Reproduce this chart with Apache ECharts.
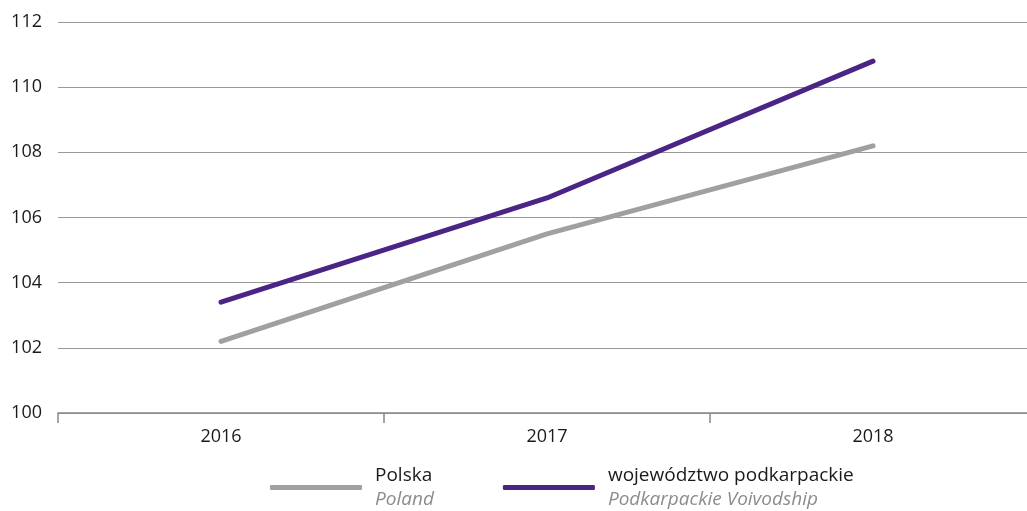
<!DOCTYPE html>
<html>
<head>
<meta charset="utf-8">
<script src="https://cdn.jsdelivr.net/npm/echarts@6/dist/echarts.min.js"></script>
<style>
  html, body { margin: 0; padding: 0; background: #fff; }
  #chart-container { width: 1027px; height: 511px; }
</style>
</head>
<body>
<div id="chart-container"></div>
<script>
const years = ['2016', '2017', '2018'];
const polska = [102.2, 105.5, 108.2];
const podkarpackie = [103.4, 106.6, 110.8];
const englishNames = {
  'Polska': 'Poland',
  'województwo podkarpackie': 'Podkarpackie Voivodship'
};

function buildSeries(name, color, data) {
  return {
    name,
    type: 'line',
    symbol: 'none',
    itemStyle: { color },
    lineStyle: { color, width: 5, cap: 'round', join: 'round' },
    data
  };
}

const font = 'Open Sans';

let option = {
  animation: false,
  // grid runs a bit past the right edge, like the original
  grid: { left: 58, width: 978, top: 22, bottom: 98, outerBoundsMode: 'none' },
  legend: {
    left: 265,
    top: 461,
    itemWidth: 92,
    itemHeight: 5,
    itemGap: 69,
    icon: 'roundRect',
    data: ['Polska', 'województwo podkarpackie'],
    formatter: (name) => '{a|' + name + '}\n{b|' + englishNames[name] + '}',
    textStyle: {
      rich: {
        a: { fontFamily: font, fontSize: 19, color: '#1a1a1a', lineHeight: 24, padding: [0, 0, 0, 8] },
        b: { fontFamily: font, fontSize: 19, fontStyle: 'italic', color: '#8c8c8c', lineHeight: 24, padding: [0, 0, 0, 8] }
      }
    }
  },
  xAxis: {
    type: 'category',
    data: years,
    boundaryGap: true,
    axisLine: { lineStyle: { color: '#888', width: 1.5 } },
    axisTick: { show: true, length: 10, lineStyle: { color: '#888', width: 1.5 } },
    axisLabel: { fontFamily: font, fontSize: 18, color: '#1a1a1a', margin: 15 }
  },
  yAxis: {
    type: 'value',
    min: 100,
    max: 112,
    interval: 2,
    axisLine: { show: false },
    axisTick: { show: false },
    axisLabel: { fontFamily: font, fontSize: 18, color: '#1a1a1a', margin: 16 },
    splitLine: { lineStyle: { color: '#999', width: 1 } }
  },
  series: [
    buildSeries('Polska', '#a0a0a0', polska),
    buildSeries('województwo podkarpackie', '#4b2585', podkarpackie)
  ]
};

var myChart = echarts.init(document.getElementById('chart-container'));
myChart.setOption(option);
window.addEventListener('resize', myChart.resize);
</script>
</body>
</html>
